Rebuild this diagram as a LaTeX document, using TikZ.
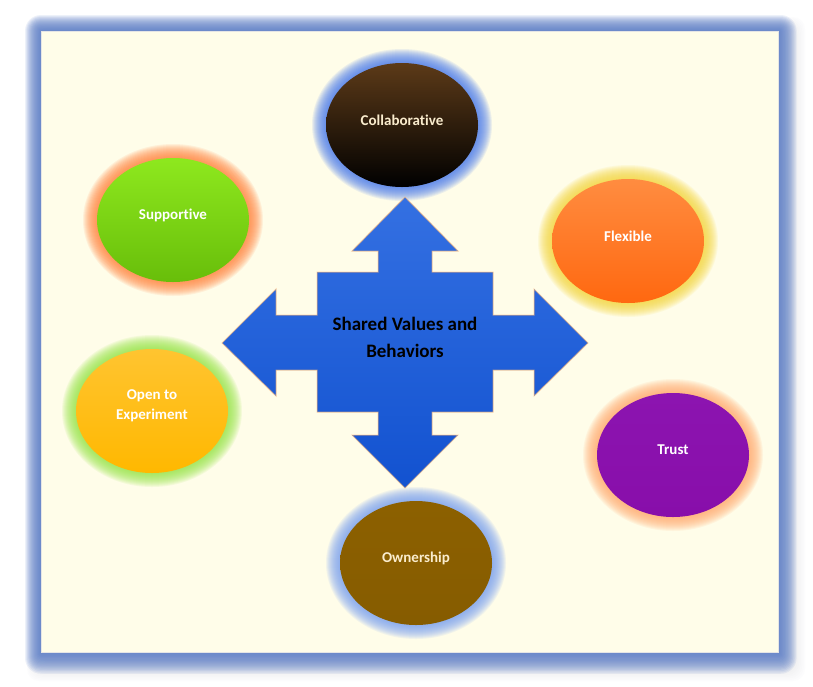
\documentclass[tikz,border=0pt]{standalone}
\usepackage{fontspec}
\setmainfont{Carlito}[Ligatures=NoCommon]
\usepackage{xcolor}
\usepackage{tikz}
\usetikzlibrary{shapes.geometric}
\definecolor{frameBlue}{RGB}{88,124,202}
\definecolor{frameGray}{RGB}{150,150,160}
\definecolor{panelCream}{RGB}{255,253,233}
\definecolor{crossTop}{RGB}{52,112,226}
\definecolor{crossBot}{RGB}{18,82,208}
\definecolor{crossGlow}{RGB}{255,185,120}
\definecolor{collabTop}{RGB}{92,58,24}
\definecolor{collabBot}{RGB}{0,0,0}
\definecolor{collabGlow}{RGB}{70,120,240}
\definecolor{collabText}{RGB}{250,236,205}
\definecolor{suppTop}{RGB}{142,232,30}
\definecolor{suppBot}{RGB}{104,190,10}
\definecolor{suppGlow}{RGB}{255,130,60}
\definecolor{flexTop}{RGB}{255,140,64}
\definecolor{flexBot}{RGB}{255,104,16}
\definecolor{flexGlow}{RGB}{245,215,60}
\definecolor{openTop}{RGB}{255,196,48}
\definecolor{openBot}{RGB}{255,184,0}
\definecolor{openGlow}{RGB}{150,230,70}
\definecolor{trustTop}{RGB}{140,20,176}
\definecolor{trustBot}{RGB}{136,14,170}
\definecolor{trustGlow}{RGB}{255,170,110}
\definecolor{ownTop}{RGB}{140,96,0}
\definecolor{ownBot}{RGB}{134,92,0}
\definecolor{ownGlow}{RGB}{120,160,245}
\begin{document}
\begin{tikzpicture}[x=1pt,y=-1pt,
  bubble/.style={ellipse, minimum width=152pt, minimum height=124pt, inner sep=0pt},
  bubbletext/.style={font=\fontsize{15}{20}\selectfont\bfseries, align=center}]
\useasboundingbox (0,0) rectangle (813,686);
\fill[white] (0,0) rectangle (813,686);
% frame glow and panel
\foreach \r in {1,...,14}
  \fill[frameGray, opacity=0.02, rounded corners=12pt] ({41-\r},{31-\r}) rectangle ({784+1.5*\r},{660+1.5*\r});
\foreach \r in {1,...,16}
  \fill[frameBlue, opacity=0.1, rounded corners=\r pt] ({41-\r},{31-\r}) rectangle ({779+1.1*\r},{653+1.3*\r});
\fill[panelCream] (41,31) rectangle (778,652);
\draw[white!80!gray, line width=0.6pt] (41,31) rectangle (778,652);
% bubbles with glow
\foreach \name/\px/\py/\topc/\botc/\glowc/\txtc/\txt in {
  collab/402/125/collabTop/collabBot/collabGlow/collabText/Collaborative,
  supp/173/220/suppTop/suppBot/suppGlow/white/Supportive,
  flex/628/241/flexTop/flexBot/flexGlow/white/Flexible,
  open/152/411/openTop/openBot/openGlow/white/{Open to\\Experiment},
  trust/673/455/trustTop/trustBot/trustGlow/white/Trust,
  own/416/563/ownTop/ownBot/ownGlow/collabText/Ownership}{
  \foreach \r in {1,...,14}
    \fill[\glowc, opacity=0.1] (\px,\py) ellipse ({76+\r} and {62+\r});
  \node[bubble, top color=\topc, bottom color=\botc,
    label={[bubbletext, text=\txtc, yshift=5pt]center:{\txt}}] (\name) at (\px,\py) {};
}
% four-way arrow
\draw[crossGlow, draw opacity=0.6, line width=1pt, line join=miter, top color=crossTop, bottom color=crossBot]
  (405,197) -- (458,251) -- (432,251) -- (432,272) -- (493,272) -- (493,315) -- (534,315) -- (534,289)
  -- (588,343) -- (534,396) -- (534,370) -- (493,370) -- (493,412) -- (432,412) -- (432,435) -- (458,435)
  -- (405,488) -- (352,435) -- (378,435) -- (378,412) -- (317,412) -- (317,370) -- (276,370) -- (276,396)
  -- (222,343) -- (276,289) -- (276,315) -- (317,315) -- (317,272) -- (378,272) -- (378,251) -- (352,251) -- cycle;
\node[font=\fontsize{19}{27}\selectfont\bfseries, align=center] (core) at (405,337) {Shared Values and\\Behaviors};
\end{tikzpicture}
\end{document}
